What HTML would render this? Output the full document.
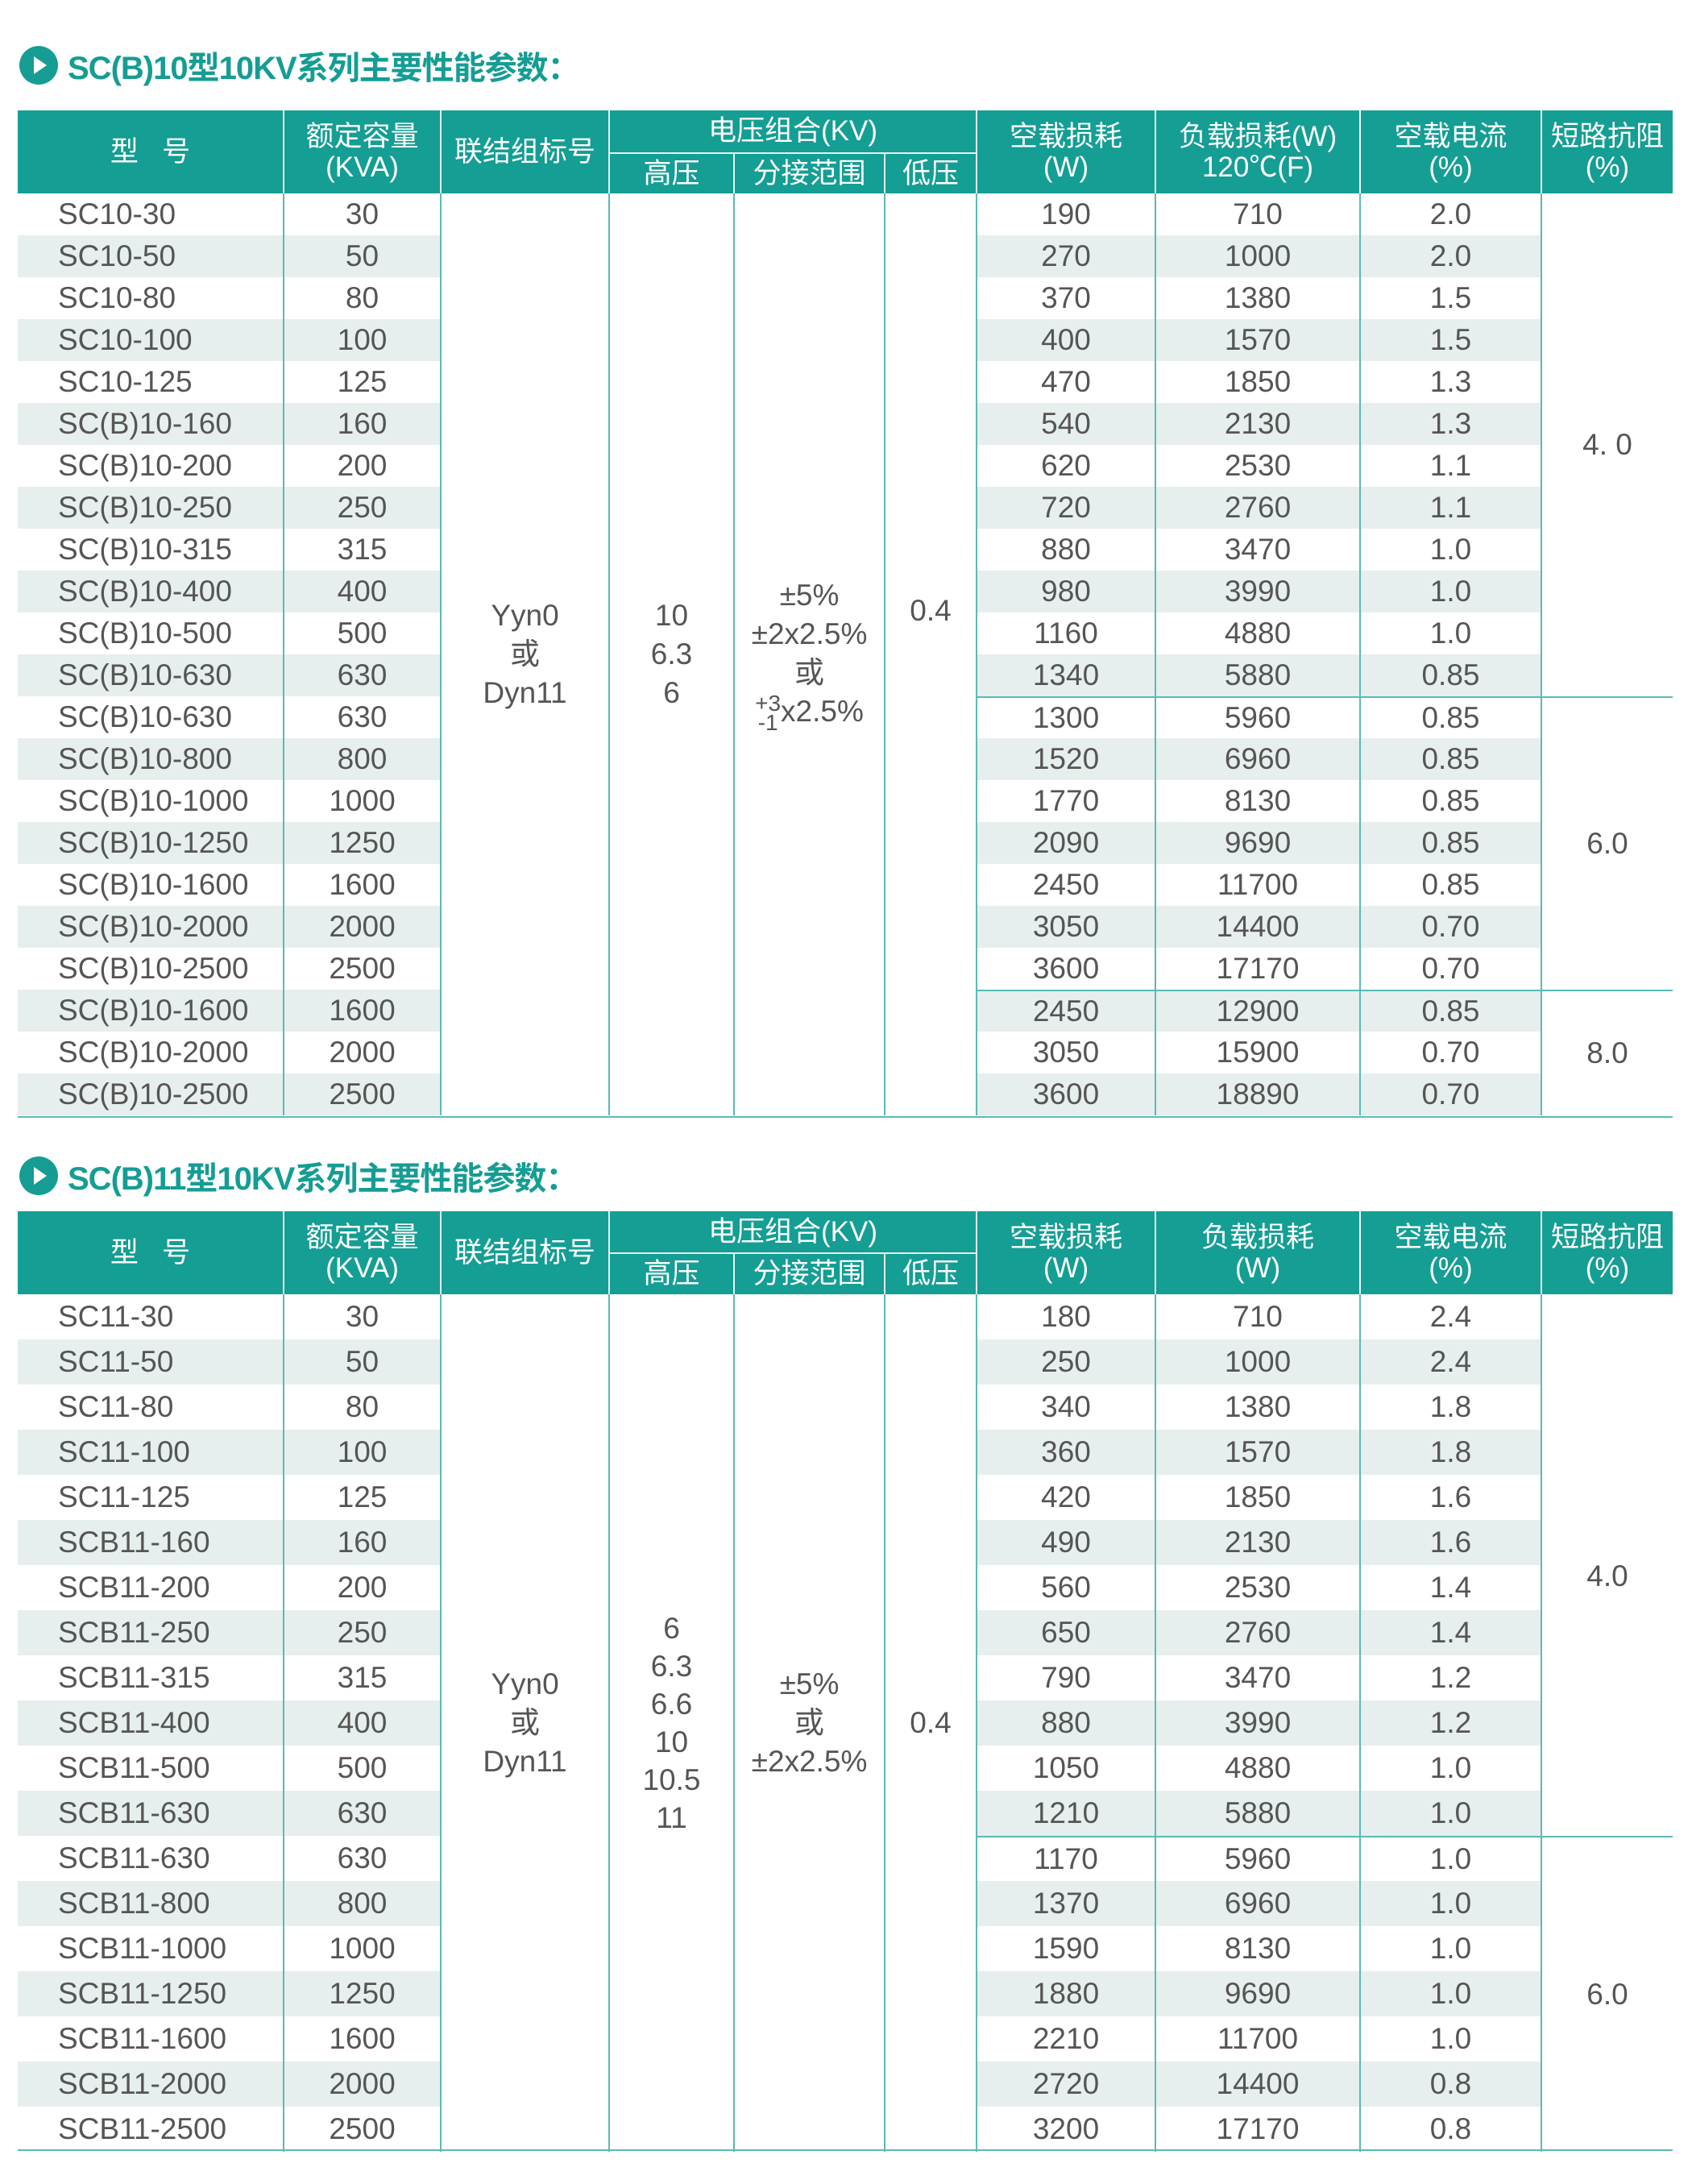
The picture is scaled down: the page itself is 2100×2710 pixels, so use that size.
<!DOCTYPE html>
<html><head><meta charset="utf-8">
<style>
*{margin:0;padding:0;box-sizing:border-box}
body{width:2100px;height:2710px;background:#fff;position:relative;font-family:"Liberation Sans","Noto Sans CJK SC",sans-serif;color:#555;overflow:hidden}
.title{position:absolute;left:24px;height:50px;display:flex;align-items:center;color:#159d94;font-weight:bold;font-size:40px;font-family:"Liberation Sans","Noto Sans CJK SC",sans-serif;letter-spacing:-1px}
.title .ic{width:48px;height:48px;border-radius:50%;background:#159d94;position:relative;margin-right:12px}
.title .ic:after{content:"";position:absolute;left:18px;top:13px;border-left:16px solid #fff;border-top:11px solid transparent;border-bottom:11px solid transparent}
table{position:absolute;left:22px;border-collapse:separate;border-spacing:0;table-layout:fixed;width:2054px;font-size:37px}
th{background:#149e94;color:#fff;font-weight:normal;font-size:35px;line-height:38px;text-align:center;vertical-align:middle;border-left:2px solid #e6f4f3}
th.f{border-left:none}
th.sub{border-top:2px solid #e6f4f3}
td{background:#fff;text-align:center;vertical-align:middle;border-left:2px solid #5bbab3;padding:0;white-space:nowrap}
td.f{border-left:none;text-align:left;padding-left:50px}
tr.s td{background:#e7eeee}
tr.s td.m,td.m{background:#fff}
td.g{border-top:2px solid #5bbab3}
td.m{line-height:48px}
.sup{display:inline-block;vertical-align:middle;font-size:28px;line-height:24px;text-align:center}
.bl{position:absolute;left:22px;width:2054px;height:2px;background:#5bbab3}
</style></head><body>

<div class="title" style="top:56px"><div class="ic"></div>SC(B)10型10KV系列主要性能参数：</div>

<table style="top:137px">
<colgroup><col style="width:329px"><col style="width:195px"><col style="width:209px"><col style="width:155px"><col style="width:187px"><col style="width:114px"><col style="width:222px"><col style="width:254px"><col style="width:225px"><col style="width:164px"></colgroup>
<tr style="height:52px"><th class="f" rowspan="2">型&nbsp;&nbsp;&nbsp;号</th><th rowspan="2">额定容量<br>(KVA)</th><th rowspan="2">联结组标号</th><th colspan="3">电压组合(KV)</th><th rowspan="2">空载损耗<br>(W)</th><th rowspan="2">负载损耗(W)<br>120℃(F)</th><th rowspan="2">空载电流<br>(%)</th><th rowspan="2">短路抗阻<br>(%)</th></tr>
<tr style="height:51px"><th class="sub">高压</th><th class="sub">分接范围</th><th class="sub">低压</th></tr>
<tr style="height:52px"><td class="f">SC10-30</td><td>30</td>
<td class="m" rowspan="22">Yyn0<br>或<br>Dyn11</td>
<td class="m" rowspan="22">10<br>6.3<br>6</td>
<td class="m" rowspan="22" style="padding-bottom:0">±5%<br>±2x2.5%<br>或<br><span class="sup">+3<br>-1</span>x2.5%</td>
<td class="m" rowspan="22" style="padding-bottom:108px">0.4</td>
<td>190</td><td>710</td><td>2.0</td><td class="m" rowspan="12">4. 0</td></tr>
<tr class="s" style="height:52px"><td class="f">SC10-50</td><td>50</td><td>270</td><td>1000</td><td>2.0</td></tr>
<tr style="height:52px"><td class="f">SC10-80</td><td>80</td><td>370</td><td>1380</td><td>1.5</td></tr>
<tr class="s" style="height:52px"><td class="f">SC10-100</td><td>100</td><td>400</td><td>1570</td><td>1.5</td></tr>
<tr style="height:52px"><td class="f">SC10-125</td><td>125</td><td>470</td><td>1850</td><td>1.3</td></tr>
<tr class="s" style="height:52px"><td class="f">SC(B)10-160</td><td>160</td><td>540</td><td>2130</td><td>1.3</td></tr>
<tr style="height:52px"><td class="f">SC(B)10-200</td><td>200</td><td>620</td><td>2530</td><td>1.1</td></tr>
<tr class="s" style="height:52px"><td class="f">SC(B)10-250</td><td>250</td><td>720</td><td>2760</td><td>1.1</td></tr>
<tr style="height:52px"><td class="f">SC(B)10-315</td><td>315</td><td>880</td><td>3470</td><td>1.0</td></tr>
<tr class="s" style="height:52px"><td class="f">SC(B)10-400</td><td>400</td><td>980</td><td>3990</td><td>1.0</td></tr>
<tr style="height:52px"><td class="f">SC(B)10-500</td><td>500</td><td>1160</td><td>4880</td><td>1.0</td></tr>
<tr class="s" style="height:52px"><td class="f">SC(B)10-630</td><td>630</td><td>1340</td><td>5880</td><td>0.85</td></tr>
<tr style="height:52px"><td class="f">SC(B)10-630</td><td>630</td><td class="g">1300</td><td class="g">5960</td><td class="g">0.85</td><td class="m g" rowspan="7">6.0</td></tr>
<tr class="s" style="height:52px"><td class="f">SC(B)10-800</td><td>800</td><td>1520</td><td>6960</td><td>0.85</td></tr>
<tr style="height:52px"><td class="f">SC(B)10-1000</td><td>1000</td><td>1770</td><td>8130</td><td>0.85</td></tr>
<tr class="s" style="height:52px"><td class="f">SC(B)10-1250</td><td>1250</td><td>2090</td><td>9690</td><td>0.85</td></tr>
<tr style="height:52px"><td class="f">SC(B)10-1600</td><td>1600</td><td>2450</td><td>11700</td><td>0.85</td></tr>
<tr class="s" style="height:52px"><td class="f">SC(B)10-2000</td><td>2000</td><td>3050</td><td>14400</td><td>0.70</td></tr>
<tr style="height:52px"><td class="f">SC(B)10-2500</td><td>2500</td><td>3600</td><td>17170</td><td>0.70</td></tr>
<tr class="s" style="height:52px"><td class="f">SC(B)10-1600</td><td>1600</td><td class="g">2450</td><td class="g">12900</td><td class="g">0.85</td><td class="m g" rowspan="3">8.0</td></tr>
<tr style="height:52px"><td class="f">SC(B)10-2000</td><td>2000</td><td>3050</td><td>15900</td><td>0.70</td></tr>
<tr class="s" style="height:52px"><td class="f">SC(B)10-2500</td><td>2500</td><td>3600</td><td>18890</td><td>0.70</td></tr>
</table>
<div class="bl" style="top:1385px"></div>

<div class="title" style="top:1434px"><div class="ic"></div>SC(B)11型10KV系列主要性能参数：</div>

<table style="top:1503px">
<colgroup><col style="width:329px"><col style="width:195px"><col style="width:209px"><col style="width:155px"><col style="width:187px"><col style="width:114px"><col style="width:222px"><col style="width:254px"><col style="width:225px"><col style="width:164px"></colgroup>
<tr style="height:51px"><th class="f" rowspan="2">型&nbsp;&nbsp;&nbsp;号</th><th rowspan="2">额定容量<br>(KVA)</th><th rowspan="2">联结组标号</th><th colspan="3">电压组合(KV)</th><th rowspan="2">空载损耗<br>(W)</th><th rowspan="2">负载损耗<br>(W)</th><th rowspan="2">空载电流<br>(%)</th><th rowspan="2">短路抗阻<br>(%)</th></tr>
<tr style="height:52px"><th class="sub">高压</th><th class="sub">分接范围</th><th class="sub">低压</th></tr>
<tr style="height:56px"><td class="f">SC11-30</td><td>30</td>
<td class="m" rowspan="19">Yyn0<br>或<br>Dyn11</td>
<td class="m" rowspan="19" style="line-height:47px">6<br>6.3<br>6.6<br>10<br>10.5<br>11</td>
<td class="m" rowspan="19">±5%<br>或<br>±2x2.5%</td>
<td class="m" rowspan="19">0.4</td>
<td>180</td><td>710</td><td>2.4</td><td class="m" rowspan="12" style="padding-top:28px">4.0</td></tr>
<tr class="s" style="height:56px"><td class="f">SC11-50</td><td>50</td><td>250</td><td>1000</td><td>2.4</td></tr>
<tr style="height:56px"><td class="f">SC11-80</td><td>80</td><td>340</td><td>1380</td><td>1.8</td></tr>
<tr class="s" style="height:56px"><td class="f">SC11-100</td><td>100</td><td>360</td><td>1570</td><td>1.8</td></tr>
<tr style="height:56px"><td class="f">SC11-125</td><td>125</td><td>420</td><td>1850</td><td>1.6</td></tr>
<tr class="s" style="height:56px"><td class="f">SCB11-160</td><td>160</td><td>490</td><td>2130</td><td>1.6</td></tr>
<tr style="height:56px"><td class="f">SCB11-200</td><td>200</td><td>560</td><td>2530</td><td>1.4</td></tr>
<tr class="s" style="height:56px"><td class="f">SCB11-250</td><td>250</td><td>650</td><td>2760</td><td>1.4</td></tr>
<tr style="height:56px"><td class="f">SCB11-315</td><td>315</td><td>790</td><td>3470</td><td>1.2</td></tr>
<tr class="s" style="height:56px"><td class="f">SCB11-400</td><td>400</td><td>880</td><td>3990</td><td>1.2</td></tr>
<tr style="height:56px"><td class="f">SCB11-500</td><td>500</td><td>1050</td><td>4880</td><td>1.0</td></tr>
<tr class="s" style="height:56px"><td class="f">SCB11-630</td><td>630</td><td>1210</td><td>5880</td><td>1.0</td></tr>
<tr style="height:56px"><td class="f">SCB11-630</td><td>630</td><td class="g">1170</td><td class="g">5960</td><td class="g">1.0</td><td class="m g" rowspan="7">6.0</td></tr>
<tr class="s" style="height:56px"><td class="f">SCB11-800</td><td>800</td><td>1370</td><td>6960</td><td>1.0</td></tr>
<tr style="height:56px"><td class="f">SCB11-1000</td><td>1000</td><td>1590</td><td>8130</td><td>1.0</td></tr>
<tr class="s" style="height:56px"><td class="f">SCB11-1250</td><td>1250</td><td>1880</td><td>9690</td><td>1.0</td></tr>
<tr style="height:56px"><td class="f">SCB11-1600</td><td>1600</td><td>2210</td><td>11700</td><td>1.0</td></tr>
<tr class="s" style="height:56px"><td class="f">SCB11-2000</td><td>2000</td><td>2720</td><td>14400</td><td>0.8</td></tr>
<tr style="height:56px"><td class="f">SCB11-2500</td><td>2500</td><td>3200</td><td>17170</td><td>0.8</td></tr>
</table>
<div class="bl" style="top:2667px"></div>
</body></html>
